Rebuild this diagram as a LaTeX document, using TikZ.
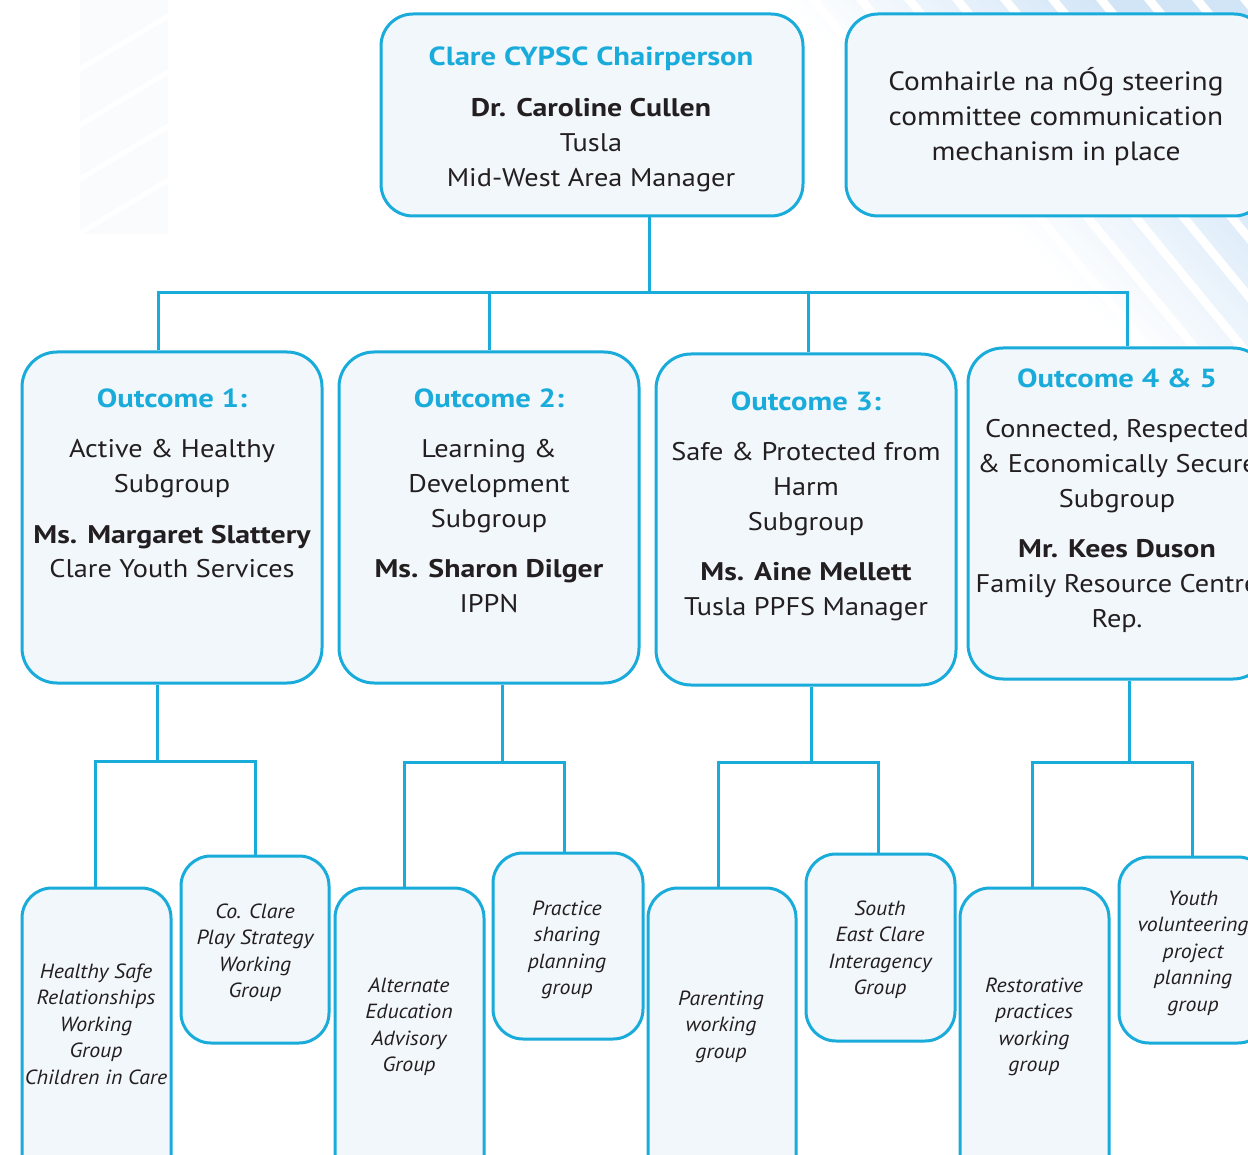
\documentclass[tikz,border=0pt]{standalone}
\usepackage{fontspec}
\setmainfont{PT Sans}
\newfontfamily\rgf{PT Sans}[FakeStretch=1.11]
\newfontfamily\bdf{PT Sans}[FakeStretch=1.17]
\newfontfamily\itf{PT Sans}[FakeStretch=1.065]
\definecolor{cy}{HTML}{19ACDB}
\definecolor{boxfill}{HTML}{F2F7FC}
\definecolor{ink}{HTML}{231F20}
\definecolor{bgblue}{HTML}{D2E5F7}
\definecolor{faint}{HTML}{F9FBFD}
\newcommand\ttlA[1]{{\bdf\fontsize{26.2}{35}\selectfont\bfseries\color{cy}#1}}
\newcommand\nmB[1]{{\bdf\bfseries #1}}
\begin{document}
\begin{tikzpicture}[x=1pt,y=-1pt,
  box/.style={draw=cy, fill=boxfill, line width=3pt, rounded corners=#1, inner sep=0pt},
  box/.default=32pt,
  conn/.style={draw=cy, line width=3pt, line join=miter},
  txt/.style={inner sep=0pt, anchor=base, text=ink, font=\rgf\fontsize{25.5}{34.7}\selectfont},
  stxt/.style={inner sep=0pt, anchor=base, text=ink, font=\itf\fontsize{20.5}{26.5}\selectfont\itshape},
]
\useasboundingbox (0,0) rectangle (1248,1155);
\clip (0,0) rectangle (1248,1155);
\fill[white] (0,0) rectangle (1248,1155);

% faint background tiles, top left
\begin{scope}
  \clip (80,0) rectangle (168,234);
  \fill[faint] (80,0) rectangle (168,234);
  \foreach \y in {72,128,182,236}
    \fill[white] (80,\y) -- ++(0,-6) -- ++(100,-60) -- ++(0,6) -- cycle;
\end{scope}

% faint background bands, top right
\begin{scope}
  \clip (780,0) -- (1248,0) -- (1248,468) -- cycle;
  \shade[shading=axis, bottom color=white, top color=bgblue, middle color=white, shading angle=-45]
    (780,0) rectangle (1248,468);
  \foreach \x in {760,808,...,1250}
    \fill[white] (\x,0) -- ++(11,0) -- ++(0.82*500,500) -- ++(-11,0) -- cycle;
\end{scope}

% top boxes
\node[box, minimum width=422pt, minimum height=202pt] (chair) at (592,115) {};
\node[box, minimum width=420pt, minimum height=202pt] (com) at (1056,115) {};
\node[txt] (chairt) at (591,66) {\begin{tabular}[t]{@{}c@{}}\ttlA{Clare CYPSC Chairperson}\\[16pt]
  \nmB{Dr. Caroline Cullen}\\ Tusla\\ Mid-West Area Manager\end{tabular}};
\node[txt, font=\rgf\fontsize{26.5}{35}\selectfont] (comt) at (1056,91) {\begin{tabular}[t]{@{}c@{}}Comhairle na nÓg steering\\
  committee communication\\ mechanism in place\end{tabular}};

% outcome boxes
\node[box=35pt, minimum width=300pt, minimum height=331pt] (o1) at (172,517.5) {};
\node[box=35pt, minimum width=300pt, minimum height=331pt] (o2) at (489,517.5) {};
\node[box=35pt, minimum width=300pt, minimum height=331pt] (o3) at (806,519.5) {};
\node[box=35pt, minimum width=300pt, minimum height=331pt] (o4) at (1118,513.5) {};

\node[txt] (o1t) at (172,408) {\begin{tabular}[t]{@{}c@{}}\ttlA{Outcome 1:}\\[15pt]
  Active \& Healthy\\ Subgroup\\[16pt] \nmB{Ms. Margaret Slattery}\\ Clare Youth Services\end{tabular}};
\node[txt] (o2t) at (489,408) {\begin{tabular}[t]{@{}c@{}}\ttlA{Outcome 2:}\\[15pt]
  Learning \&\\ Development\\ Subgroup\\[16pt] \nmB{Ms. Sharon Dilger}\\ IPPN\end{tabular}};
\node[txt] (o3t) at (806,411) {\begin{tabular}[t]{@{}c@{}}\ttlA{Outcome 3:}\\[15pt]
  Safe \& Protected from\\ Harm\\ Subgroup\\[16pt] \nmB{Ms. Aine Mellett}\\ Tusla PPFS Manager\end{tabular}};
\node[txt] (o4t) at (1117,388) {\begin{tabular}[t]{@{}c@{}}\ttlA{Outcome 4 \& 5}\\[15pt]
  Connected, Respected\\ \& Economically Secure\\ Subgroup\\[16pt] \nmB{Mr. Kees Duson}\\ Family Resource Centre\\ Rep.\end{tabular}};

% small boxes
\node[box=30pt, minimum width=149pt, minimum height=312pt] (s1) at (96.5,1044) {};
\node[box=30pt, minimum width=148pt, minimum height=187pt] (s2) at (255,949.5) {};
\node[box=30pt, minimum width=149pt, minimum height=312pt] (s3) at (409.5,1044) {};
\node[box=30pt, minimum width=150pt, minimum height=186pt] (s4) at (568,946) {};
\node[box=30pt, minimum width=148pt, minimum height=312pt] (s5) at (722,1044) {};
\node[box=30pt, minimum width=149pt, minimum height=187pt] (s6) at (880.5,947.5) {};
\node[box=30pt, minimum width=149pt, minimum height=312pt] (s7) at (1034.5,1044) {};
\node[box=30pt, minimum width=149pt, minimum height=186pt] (s8) at (1193.5,950) {};

\node[stxt] (s1t) at (96,978) {\begin{tabular}[t]{@{}c@{}}Healthy Safe\\ Relationships\\ Working\\ Group\\ Children in Care\end{tabular}};
\node[stxt] (s2t) at (255,918) {\begin{tabular}[t]{@{}c@{}}Co. Clare\\ Play Strategy\\ Working\\ Group\end{tabular}};
\node[stxt] (s3t) at (409,992) {\begin{tabular}[t]{@{}c@{}}Alternate\\ Education\\ Advisory\\ Group\end{tabular}};
\node[stxt] (s4t) at (567,915) {\begin{tabular}[t]{@{}c@{}}Practice\\ sharing\\ planning\\ group\end{tabular}};
\node[stxt] (s5t) at (721,1005) {\begin{tabular}[t]{@{}c@{}}Parenting\\ working\\ group\end{tabular}};
\node[stxt] (s6t) at (880,915) {\begin{tabular}[t]{@{}c@{}}South\\ East Clare\\ Interagency\\ Group\end{tabular}};
\node[stxt] (s7t) at (1034,992) {\begin{tabular}[t]{@{}c@{}}Restorative\\ practices\\ working\\ group\end{tabular}};
\node[stxt] (s8t) at (1193,905) {\begin{tabular}[t]{@{}c@{}}Youth\\ volunteering\\ project\\ planning\\ group\end{tabular}};

% connector junctions
\coordinate (h0) at (649,293);
\coordinate (h1) at (158,293);
\coordinate (h2) at (489,293);
\coordinate (h3) at (808,293);
\coordinate (h4) at (1127,293);
\coordinate (g1) at (157,761);  \coordinate (a1) at (95,761);   \coordinate (b1) at (255,761);
\coordinate (g2) at (502,762);  \coordinate (a2) at (404,762);  \coordinate (b2) at (564,762);
\coordinate (g3) at (811,762);  \coordinate (a3) at (718,762);  \coordinate (b3) at (878,762);
\coordinate (g4) at (1129,762); \coordinate (a4) at (1032,762); \coordinate (b4) at (1192,762);

\draw[conn] (chair.south -| h0) -- (h0);
\draw[conn] (o1.north -| h1) -- (h1) -- (h4) -- (o4.north -| h4);
\draw[conn] (h2) -- (o2.north -| h2);
\draw[conn] (h3) -- (o3.north -| h3);

\draw[conn] (o1.south -| g1) -- (g1);
\draw[conn] (s1.north -| a1) -- (a1) -- (b1) -- (s2.north -| b1);
\draw[conn] (o2.south -| g2) -- (g2);
\draw[conn] (s3.north -| a2) -- (a2) -- (b2) -- (s4.north -| b2);
\draw[conn] (o3.south -| g3) -- (g3);
\draw[conn] (s5.north -| a3) -- (a3) -- (b3) -- (s6.north -| b3);
\draw[conn] (o4.south -| g4) -- (g4);
\draw[conn] (s7.north -| a4) -- (a4) -- (b4) -- (s8.north -| b4);
\end{tikzpicture}
\end{document}
